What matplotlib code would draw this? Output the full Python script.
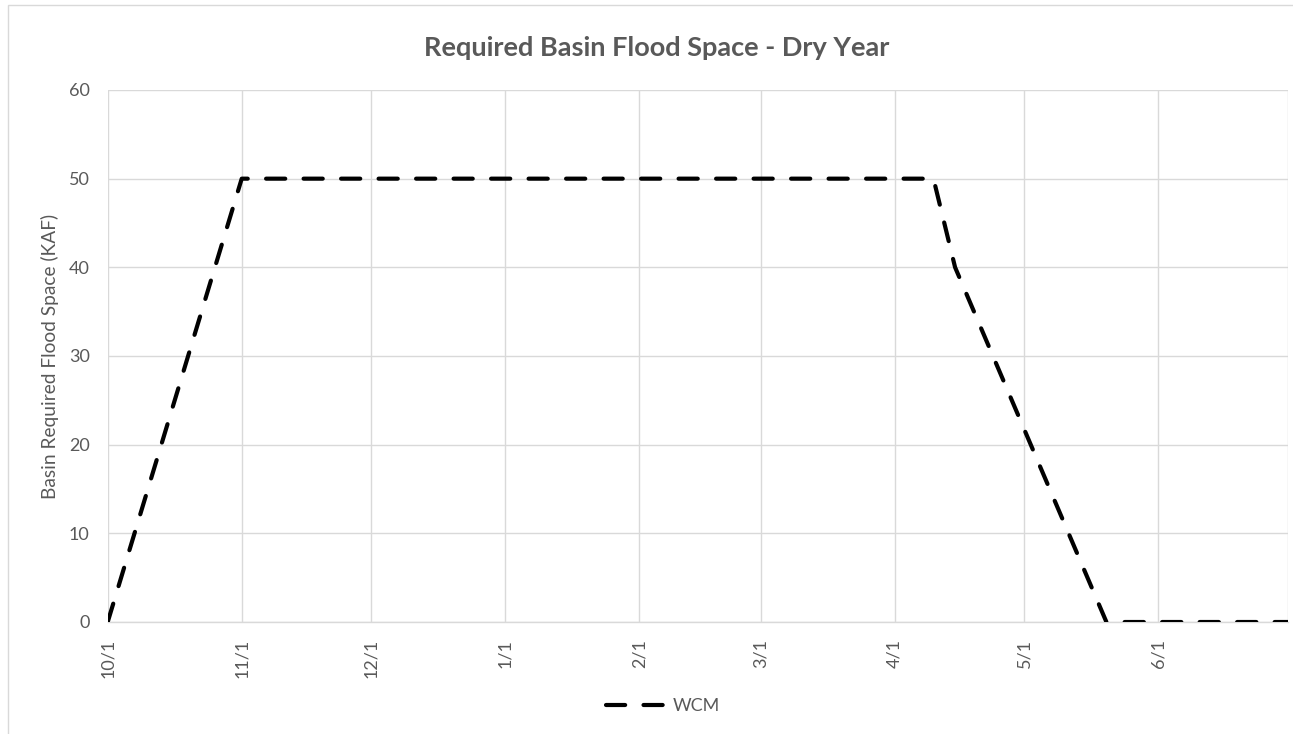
import matplotlib
matplotlib.use('Agg')
import matplotlib.pyplot as plt
import numpy as np
from matplotlib.patches import Rectangle

# data
dates = np.array(['2018-10-01', '2018-11-01', '2019-04-10',
                  '2019-04-15', '2019-05-20', '2019-07-01'], dtype='datetime64[D]')
wcm = [0, 50, 50, 40, 0, 0]

month_ticks = np.array(['2018-10-01', '2018-11-01', '2018-12-01', '2019-01-01',
                        '2019-02-01', '2019-03-01', '2019-04-01', '2019-05-01',
                        '2019-06-01', '2019-07-01'], dtype='datetime64[D]')
tick_labels = ['10/1', '11/1', '12/1', '1/1', '2/1', '3/1', '4/1', '5/1', '6/1', '']

grey = '#595959'
gridc = '#d9d9d9'
plt.rcParams['font.family'] = ['Lato', 'DejaVu Sans']

fig = plt.figure(figsize=(12.93, 7.34), dpi=100)
ax = fig.add_axes([107.7/1293, 1-622/734, (1288-107.7)/1293, (622-90)/734])

ax.plot(dates, wcm, color='black', lw=3.0, dashes=(4.6, 4.4),
        dash_capstyle='round', label='WCM', zorder=3)

ax.set_xlim(month_ticks[0], month_ticks[-1])
ax.set_ylim(0, 60)
ax.set_yticks(range(0, 61, 10))
ax.set_xticks(month_ticks)
ax.set_xticklabels(tick_labels, rotation=90)
ax.grid(True, color=gridc, lw=1.0)
ax.set_axisbelow(True)
for s in ax.spines.values():
    s.set_visible(False)
ax.spines['bottom'].set_visible(True)
ax.spines['bottom'].set_color(gridc)
ax.spines['bottom'].set_linewidth(1.0)
ax.tick_params(length=0, colors=grey, labelsize=13)
ax.tick_params(axis='x', pad=12)
ax.tick_params(axis='y', pad=13)

ax.set_ylabel('Basin Required Flood Space (KAF)', color=grey, fontsize=13.8, labelpad=7)
fig.text(0.5075, 1-48/734, 'Required Basin Flood Space - Dry Year', ha='center', va='center',
         fontsize=19.5, fontweight='bold', color=grey)

fig.legend(loc='center', bbox_to_anchor=(663/1293, 1-706/734), frameon=False,
           handlelength=3.2, handletextpad=0.5, fontsize=13, labelcolor=grey)

fig.patches.append(Rectangle((8/1293, -0.01), 1.0, 1-5/734+0.01, transform=fig.transFigure,
                             fill=False, edgecolor=gridc, lw=1.0))

fig.savefig('out.png', dpi=100)
